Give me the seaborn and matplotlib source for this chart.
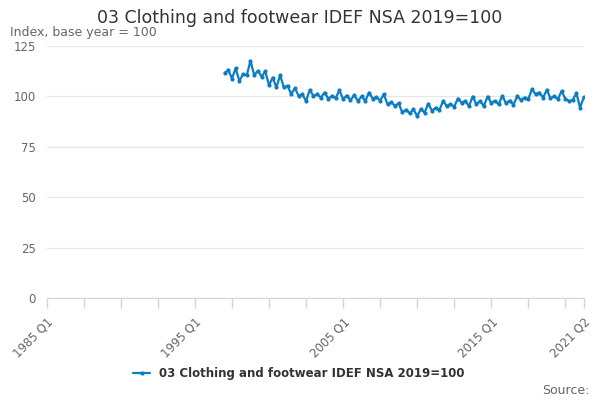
import pandas as pd
import matplotlib
matplotlib.use("Agg")
import matplotlib.pyplot as plt
import seaborn as sns

# quarterly values, 1997 Q1 .. 2021 Q2
start_year = 1997
values = [
    111.4, 113.0, 108.7, 113.8,   # 1997
    107.5, 110.9, 110.4, 117.5,   # 1998
    110.4, 112.5, 109.7, 112.2,   # 1999
    105.4, 109.2, 104.3, 110.4,   # 2000
    104.3, 105.2, 101.0, 104.0,   # 2001
    100.1, 100.9, 97.6, 103.1,    # 2002
    100.1, 100.9, 99.3, 101.8,    # 2003
    98.8, 100.1, 99.0, 102.9,     # 2004
    98.6, 100.3, 98.0, 100.5,     # 2005
    97.6, 99.9, 97.6, 101.8,      # 2006
    98.8, 99.5, 97.8, 100.9,      # 2007
    96.0, 97.0, 95.3, 96.4,       # 2008
    92.0, 93.3, 91.5, 93.5,       # 2009
    90.2, 93.5, 91.9, 96.3,       # 2010
    92.8, 94.3, 93.0, 97.6,       # 2011
    95.1, 96.0, 94.8, 98.8,       # 2012
    96.8, 97.6, 95.1, 99.8,       # 2013
    96.0, 97.6, 95.1, 99.8,       # 2014
    96.8, 97.6, 96.0, 100.1,      # 2015
    96.5, 97.8, 95.7, 99.9,       # 2016
    98.1, 99.3, 98.5, 103.4,      # 2017
    100.9, 101.8, 99.3, 103.1,    # 2018
    99.0, 99.9, 98.6, 102.5,      # 2019
    98.8, 97.6, 98.1, 101.4,      # 2020
    94.3, 99.5,                   # 2021
]
series_name = "03 Clothing and footwear IDEF NSA 2019=100"
tick_labels = ["1985 Q1", "1995 Q1", "2005 Q1", "2015 Q1", "2021 Q2"]

# quarter index counted from 1985 Q1
offset = (start_year - 1985) * 4
df = pd.DataFrame({"q": [offset + i for i in range(len(values))], "value": values,
                   "series": series_name})

sns.set_style("white")
plt.rcParams["font.family"] = ["DejaVu Sans"]

fig = plt.figure(figsize=(6, 4), dpi=100)
ax = fig.add_axes([0.078, 0.254, 0.895, 0.632])

blue = "#0b7dc3"
sns.lineplot(data=df, x="q", y="value", hue="series", palette=[blue], ax=ax,
             marker="o", markersize=3.0, markeredgewidth=0, linewidth=1.6)

ax.set_xlim(0, 145)
ax.set_ylim(0, 125)
ax.set_yticks([0, 25, 50, 75, 100, 125])
ax.yaxis.grid(True, color="#e6e6e6", linewidth=0.9)
ax.set_axisbelow(True)
ax.tick_params(axis="y", left=False, length=0, labelsize=8.5, labelcolor="#666666", pad=8)

major = [0, 40, 80, 120, 145]
ax.set_xticks(major)
ax.set_xticklabels(tick_labels, rotation=45, ha="right", rotation_mode="anchor",
                   color="#666666", fontsize=8.5)
ax.set_xticks(list(range(0, 141, 10)), minor=True)
ax.tick_params(axis="x", which="both", bottom=True, direction="out", length=7,
               color="#ccd6eb", width=1, pad=5)

for s in ["top", "right", "left"]:
    ax.spines[s].set_visible(False)
ax.spines["bottom"].set_color("#ccd6eb")
ax.set_xlabel("")
ax.set_ylabel("")

fig.text(0.5, 0.955, series_name, ha="center", va="center", fontsize=12.5, color="#333333")
fig.text(0.017, 0.918, "Index, base year = 100", ha="left", va="center", fontsize=9,
         color="#666666")
fig.text(0.982, 0.025, "Source:", ha="right", va="center", fontsize=9, color="#666666")

ax.legend(loc="upper center", bbox_to_anchor=(0.47, -0.23), frameon=False,
          handlelength=1.4, prop={"weight": "bold", "size": 8.5},
          labelcolor="#333333")

fig.savefig("out.png", dpi=100)
